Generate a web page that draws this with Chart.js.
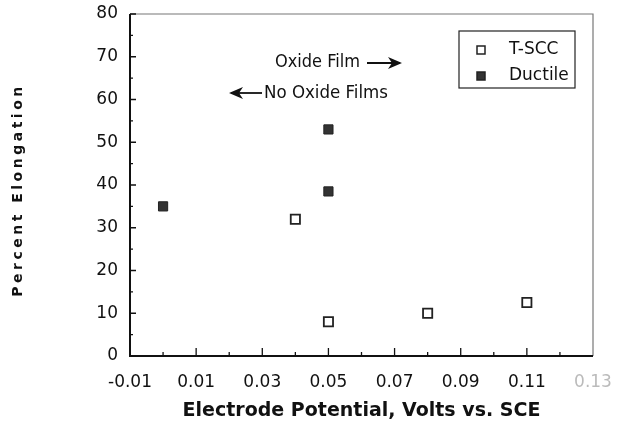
<!DOCTYPE html>
<html><head><meta charset="utf-8">
<script src="https://cdn.jsdelivr.net/npm/chart.js@4/dist/chart.umd.min.js"></script>
<style>html,body{margin:0;padding:0;background:#fff}#wrap{width:633px;height:431px}</style>
</head><body><div id="wrap"><canvas id="c" width="633" height="431"></canvas></div>
<script>
const tsccX = [0.04, 0.05, 0.08, 0.11];
const tsccY = [32, 8, 10, 12.5];
const ductileX = [0.00, 0.05, 0.05];
const ductileY = [35, 53, 38.5];
const xTickValues = [-0.01, 0.01, 0.03, 0.05, 0.07, 0.09, 0.11, 0.13];
const xTickLabels = ['-0.01','0.01','0.03','0.05','0.07','0.09','0.11','0.13'];
const xMinorValues = [0.00, 0.02, 0.04, 0.06, 0.08, 0.10, 0.12];
const yTickValues = [0,10,20,30,40,50,60,70,80];
const yMinorValues = [5,15,25,35,45,55,65,75];
const yTitle = 'Percent Elongation';

const NARROW = "'DejaVu Sans Condensed','Liberation Sans Narrow',sans-serif";
const SANS = "'DejaVu Sans','Liberation Sans',sans-serif";

const framePlugin = {
  id: 'frame',
  afterDatasetsDraw(chart) {
    const {ctx, chartArea: a, scales: {x, y}} = chart;
    ctx.save();
    ctx.strokeStyle = '#777'; ctx.lineWidth = 1.2;
    ctx.beginPath(); ctx.moveTo(a.left, a.top); ctx.lineTo(a.right, a.top); ctx.lineTo(a.right, a.bottom); ctx.stroke();
    ctx.strokeStyle = '#111'; ctx.lineWidth = 2;
    ctx.beginPath(); ctx.moveTo(a.left, a.top); ctx.lineTo(a.left, a.bottom); ctx.lineTo(a.right, a.bottom); ctx.stroke();
    ctx.lineWidth = 1.3;
    ctx.beginPath();
    xTickValues.forEach(v => { const px = x.getPixelForValue(v); if (px > a.left + 2 && px < a.right - 2) { ctx.moveTo(px, a.bottom); ctx.lineTo(px, a.bottom - 8); } });
    xMinorValues.forEach(v => { const px = x.getPixelForValue(v); ctx.moveTo(px, a.bottom); ctx.lineTo(px, a.bottom - 4); });
    yTickValues.forEach(v => { const py = y.getPixelForValue(v); ctx.moveTo(a.left, py); ctx.lineTo(a.left + 6, py); });
    yMinorValues.forEach(v => { const py = y.getPixelForValue(v); ctx.moveTo(a.left, py); ctx.lineTo(a.left + 3, py); });
    ctx.stroke();

    // legend
    const lx = 459, ly = 31, lw = 116, lh = 57;
    ctx.strokeStyle = '#222'; ctx.lineWidth = 1.2;
    ctx.strokeRect(lx, ly, lw, lh);
    ctx.font = "17px " + SANS; ctx.textBaseline = 'middle'; ctx.textAlign = 'left';
    chart.data.datasets.forEach((ds, i) => {
      const cy = ly + 19 + i * 26;
      ctx.fillStyle = ds.pointBackgroundColor; ctx.strokeStyle = ds.pointBorderColor; ctx.lineWidth = 1.5;
      ctx.fillRect(477, cy - 4, 8, 8); ctx.strokeRect(477, cy - 4, 8, 8);
      ctx.fillStyle = '#111';
      ctx.fillText(ds.label, 509, cy);
    });

    // annotations
    ctx.font = "18px " + NARROW; ctx.fillStyle = '#111';
    ctx.fillText('Oxide Film', 275, 62);
    ctx.font = "18.5px " + NARROW;
    ctx.fillText('No Oxide Films', 264, 93);
    ctx.strokeStyle = '#111'; ctx.lineWidth = 1.8;
    function arrow(x1, x2, yy) {
      ctx.beginPath(); ctx.moveTo(x1, yy); ctx.lineTo(x2, yy); ctx.stroke();
      const dir = x2 > x1 ? 1 : -1;
      ctx.beginPath(); ctx.moveTo(x2 + dir * 2, yy); ctx.lineTo(x2 - dir * 12, yy - 6); ctx.lineTo(x2 - dir * 8, yy); ctx.lineTo(x2 - dir * 12, yy + 6); ctx.closePath(); ctx.fill();
    }
    arrow(367, 400, 63);
    arrow(262, 231, 93);

    // y title
    ctx.translate(18, 190); ctx.rotate(-Math.PI / 2);
    ctx.font = "bold 14px " + SANS; ctx.textAlign = 'center'; ctx.textBaseline = 'middle';
    try { ctx.letterSpacing = '3.5px'; } catch (e) {}
    ctx.fillText(yTitle, 0, 0);
    ctx.restore();
  }
};

new Chart(document.getElementById('c'), {
  type: 'scatter',
  data: {
    datasets: [
      { label: 'T-SCC', data: tsccX.map((v, i) => ({x: v, y: tsccY[i]})), pointStyle: 'rect', pointRadius: 6.5, pointHoverRadius: 6.5,
        pointBackgroundColor: '#ffffff', pointBorderColor: '#222', pointBorderWidth: 1.8 },
      { label: 'Ductile', data: ductileX.map((v, i) => ({x: v, y: ductileY[i]})), pointStyle: 'rect', pointRadius: 6.5, pointHoverRadius: 6.5,
        pointBackgroundColor: '#333333', pointBorderColor: '#222', pointBorderWidth: 1 }
    ]
  },
  options: {
    responsive: false, animation: false, devicePixelRatio: 1,
    layout: { padding: { top: 14, right: 40, left: 0, bottom: 0 } },
    plugins: { legend: { display: false }, tooltip: { enabled: false } },
    scales: {
      x: {
        type: 'linear', min: -0.01, max: 0.13,
        afterFit(s) { s.height = 75; s.paddingLeft = 0; s.paddingRight = 0; },
        afterBuildTicks(s) { s.ticks = xTickValues.map(v => ({value: v})); },
        grid: { display: false, drawTicks: false },
        border: { display: false },
        ticks: { padding: 16, autoSkip: false, maxRotation: 0,
          font: { family: SANS, size: 17 },
          color: (c) => c.index === xTickValues.length - 1 ? '#bbb' : '#111',
          callback: (v, i) => xTickLabels[i] },
        title: { display: true, text: 'Electrode Potential, Volts vs. SCE', color: '#111',
          font: { family: SANS, size: 19, weight: 'bold' }, padding: { top: 0, bottom: 9 } }
      },
      y: {
        type: 'linear', min: 0, max: 80,
        afterFit(s) { s.width = 130; s.paddingTop = 0; s.paddingBottom = 0; },
        afterBuildTicks(s) { s.ticks = yTickValues.map(v => ({value: v})); },
        grid: { display: false, drawTicks: false },
        border: { display: false },
        ticks: { padding: 12, font: { family: SANS, size: 17 }, color: '#111' },
        title: { display: false }
      }
    }
  },
  plugins: [framePlugin]
});
</script></body></html>
